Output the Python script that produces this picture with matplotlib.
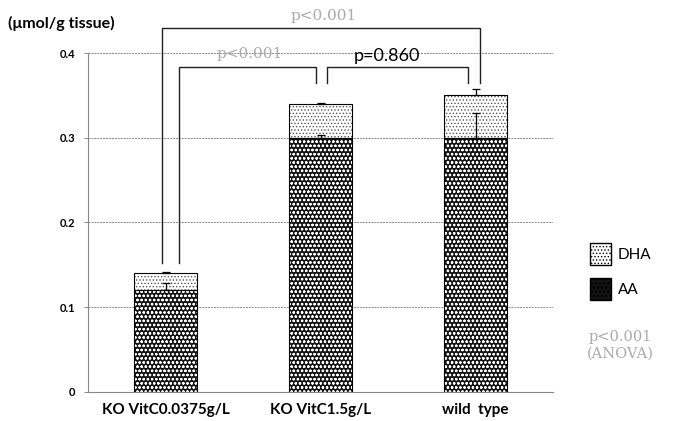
import numpy as np
import matplotlib.pyplot as plt
from matplotlib.patches import Patch

plt.rcParams['font.family'] = ['Lato', 'DejaVu Sans']
plt.rcParams['hatch.linewidth'] = 0.6

# data
groups = ['KO VitC0.0375g/L', 'KO VitC1.5g/L', 'wild  type']
aa = [0.12, 0.30, 0.30]
aa_err = [0.009, 0.003, 0.029]
dha = [0.02, 0.04, 0.05]
total_err = [0.002, 0.001, 0.008]
yticks = [0, 0.1, 0.2, 0.3, 0.4]
ytick_labels = ['0', '0.1', '0.2', '0.3', '0.4']

x = np.arange(len(groups))
w = 0.41

fig = plt.figure(figsize=(6.74, 4.21), dpi=100)
ax = fig.add_axes([0.1306, 0.069, 0.69, 0.805])

# AA bars: dark with white dots
ax.bar(x, aa, w, color='#151515', edgecolor='white', hatch='oooo', linewidth=0, zorder=2)
ax.bar(x, aa, w, color='none', edgecolor='black', linewidth=0.8, zorder=3)
# DHA bars: light dotted
ax.bar(x, dha, w, bottom=aa, color='white', edgecolor='#555555', hatch='.....', linewidth=0, zorder=2)
ax.bar(x, dha, w, bottom=aa, color='none', edgecolor='black', linewidth=0.8, zorder=3)

# error bars (upper only)
tot = np.array(aa) + np.array(dha)
ax.errorbar(x, aa, yerr=[np.zeros(3), aa_err], fmt='none', ecolor='black',
            elinewidth=0.9, capsize=3, capthick=0.9, zorder=4)
ax.errorbar(x, tot, yerr=[np.zeros(3), total_err], fmt='none', ecolor='black',
            elinewidth=0.9, capsize=3, capthick=0.9, zorder=4)

ax.set_xlim(-0.5, 2.5)
ax.set_ylim(0, 0.4)
ax.set_yticks(yticks)
ax.set_yticklabels(ytick_labels, fontsize=8, fontweight='bold')
ax.set_xticks(x)
ax.set_xticklabels(groups, fontsize=11, fontweight='bold')
ax.tick_params(axis='x', length=0, pad=8)
ax.tick_params(axis='y', length=3, width=0.6, color='#777777', pad=6)
ax.grid(axis='y', linestyle=(0, (2, 1)), color='#888888', linewidth=0.7, zorder=0)
for s in ['top', 'right']:
    ax.spines[s].set_visible(False)
for s in ['left', 'bottom']:
    ax.spines[s].set_linestyle((0, (2, 1)))
    ax.spines[s].set_color('#888888')
    ax.spines[s].set_linewidth(0.8)

# significance brackets
kw = dict(color='#222222', linewidth=1.0, clip_on=False, zorder=5)
ax.plot([0.09, 0.09, 0.968, 0.968], [0.152, 0.384, 0.384, 0.365], **kw)
ax.plot([1.039, 1.039, 1.948, 1.948], [0.365, 0.384, 0.384, 0.365], **kw)
ax.plot([-0.02, -0.02, 2.026, 2.026], [0.152, 0.4295, 0.4295, 0.365], **kw)
ax.text(0.54, 0.399, 'p<0.001', color='#aaaaaa', fontsize=11, ha='center', va='center',
        family='DejaVu Serif', fontweight='light')
ax.text(1.02, 0.444, 'p<0.001', color='#aaaaaa', fontsize=11, ha='center', va='center',
        family='DejaVu Serif', fontweight='light', clip_on=False)
ax.text(1.43, 0.397, 'p=0.860', color='black', fontsize=13, ha='center', va='center')

fig.text(0.012, 0.945, '(\u03bcmol/g tissue)', fontsize=11.5, fontweight='bold', ha='left', va='center')
fig.text(0.92, 0.18, 'p<0.001\n(ANOVA)', color='#aaaaaa', fontsize=10.5, ha='center', va='center',
         family='DejaVu Serif', linespacing=1.2)

handles = [Patch(facecolor='white', edgecolor='black', hatch='.....', label='DHA'),
           Patch(facecolor='#151515', edgecolor='black', hatch='oooo', label='AA')]
leg = fig.legend(handles=handles, loc='center left', bbox_to_anchor=(0.855, 0.355),
                 frameon=False, fontsize=11, handlelength=1.4, handleheight=1.8,
                 labelspacing=0.9, handletextpad=0.4)

fig.savefig('out.png', dpi=100)
